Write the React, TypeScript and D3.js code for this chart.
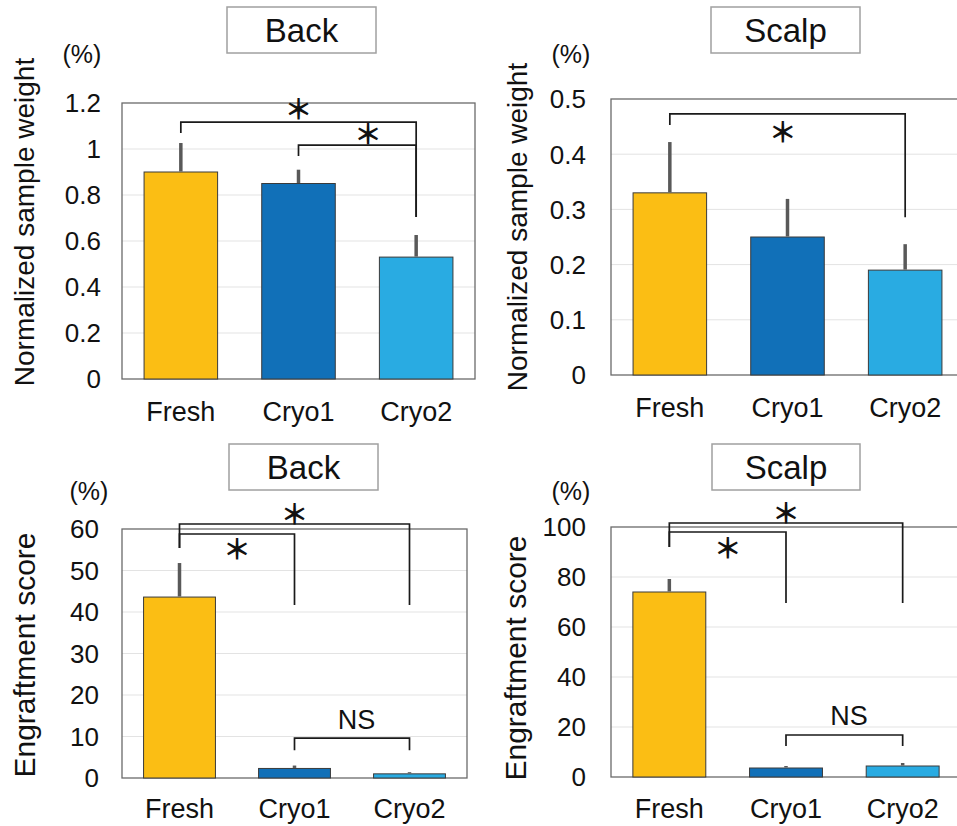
import React from 'react';
import * as d3 from 'd3';

// categories and colours
const categories = ['Fresh', 'Cryo1', 'Cryo2'];
const barColors = ['#FBBE14', '#1170B8', '#29ABE2'];

// normalized sample weight (%)
const backWeightMean = [0.9, 0.85, 0.53];
const backWeightErr = [0.126, 0.06, 0.096];
const scalpWeightMean = [0.33, 0.25, 0.19];
const scalpWeightErr = [0.092, 0.069, 0.047];

// engraftment score (%)
const backScoreMean = [43.6, 2.3, 1.0];
const backScoreErr = [8.2, 0.7, 0.4];
const scalpScoreMean = [74, 3.6, 4.4];
const scalpScoreErr = [5.2, 0.8, 1.2];

// tick values
const backWeightTicks = [0, 0.2, 0.4, 0.6, 0.8, 1, 1.2];
const scalpWeightTicks = [0, 0.1, 0.2, 0.3, 0.4, 0.5];
const backScoreTicks = [0, 10, 20, 30, 40, 50, 60];
const scalpScoreTicks = [0, 20, 40, 60, 80, 100];

// significance brackets: from/to category, line level, leg ends and label (data units)
const backWeightBrackets = [
    { from: 'Fresh', to: 'Cryo2', y: 1.117, leftEnd: 1.07, rightEnd: 0.704, label: '*', labelT: 0.5, labelY: 1.178 },
    { from: 'Cryo1', to: 'Cryo2', y: 1.017, leftEnd: 0.97, rightEnd: 0.704, label: '*', labelT: 0.59, labelY: 1.07 },
];
const scalpWeightBrackets = [
    { from: 'Fresh', to: 'Cryo2', y: 0.473, leftEnd: 0.453, rightEnd: 0.286, label: '*', labelT: 0.48, labelY: 0.442 },
];
const backScoreBrackets = [
    { from: 'Fresh', to: 'Cryo2', y: 61.2, leftEnd: 55.4, rightEnd: 41.7, label: '*', labelT: 0.5, labelY: 63.9 },
    { from: 'Fresh', to: 'Cryo1', y: 58.8, leftEnd: 55.4, rightEnd: 41.7, label: '*', labelT: 0.5, labelY: 55.4 },
    { from: 'Cryo1', to: 'Cryo2', y: 9.6, leftEnd: 6.7, rightEnd: 6.7, label: 'NS', labelT: 0.54, labelY: 11.8 },
];
const scalpScoreBrackets = [
    { from: 'Fresh', to: 'Cryo2', y: 101.6, leftEnd: 92, rightEnd: 69.6, label: '*', labelT: 0.5, labelY: 106 },
    { from: 'Fresh', to: 'Cryo1', y: 98, leftEnd: 92, rightEnd: 69.6, label: '*', labelT: 0.5, labelY: 92 },
    { from: 'Cryo1', to: 'Cryo2', y: 16.8, leftEnd: 12.4, rightEnd: 12.4, label: 'NS', labelT: 0.54, labelY: 20.8 },
];

const FONT = '"Liberation Sans", Arial, sans-serif';

function Panel({ box, yMax, ticks, means, errs, brackets, title, titleBox, yLabel, yLabelX, yLabelY, yLabelSize, pctX, pctY, tickX, xLabelY }) {
    const xScale = d3.scaleBand()
        .domain(categories)
        .range([box.left, box.right])
        .paddingInner(0.375)
        .paddingOuter(0.1875);
    const yScale = d3.scaleLinear()
        .domain([0, yMax])
        .range([box.bottom, box.top]);
    const cx = c => xScale(c) + xScale.bandwidth() / 2;

    return (
        <g>
            {/* title box */}
            <rect x={titleBox.x} y={titleBox.y} width={titleBox.w} height={titleBox.h}
                fill="#fff" stroke="#a0a0a0" strokeWidth="1.5" />
            <text x={titleBox.x + titleBox.w / 2} y={titleBox.y + titleBox.h / 2 + 12}
                textAnchor="middle" fontSize="33" fill="#111">{title}</text>

            {/* gridlines */}
            {ticks.filter(t => t > 0 && t < yMax).map(t => (
                <line key={t} x1={box.left} x2={box.right} y1={yScale(t)} y2={yScale(t)}
                    stroke="#e3e3e3" strokeWidth="1" />
            ))}

            {/* plot frame */}
            <rect x={box.left} y={box.top} width={box.right - box.left} height={box.bottom - box.top}
                fill="none" stroke="#6a6a6a" strokeWidth="1.3" />

            {/* bars */}
            {categories.map((c, i) => (
                <rect key={c} x={xScale(c)} y={yScale(means[i])} width={xScale.bandwidth()}
                    height={yScale(0) - yScale(means[i])}
                    fill={barColors[i]} stroke="#3a3a3a" strokeWidth="1" />
            ))}

            {/* error bars (upper only) */}
            {categories.map((c, i) => (
                <line key={c} x1={cx(c)} x2={cx(c)} y1={yScale(means[i]) - 0.5} y2={yScale(means[i] + errs[i])}
                    stroke="#595959" strokeWidth="3.5" />
            ))}

            {/* y ticks */}
            {ticks.map(t => (
                <text key={t} x={tickX} y={yScale(t)} dy="0.36em" textAnchor="end"
                    fontSize="26" fill="#111">{t}</text>
            ))}

            {/* x labels */}
            {categories.map(c => (
                <text key={c} x={cx(c)} y={xLabelY} textAnchor="middle" fontSize="27" fill="#111">{c}</text>
            ))}

            {/* unit */}
            <text x={pctX} y={pctY} textAnchor="middle" fontSize="25" fill="#111">(%)</text>

            {/* y axis title */}
            <text transform={`translate(${yLabelX}, ${yLabelY}) rotate(-90)`} textAnchor="middle"
                dy="0.35em" fontSize={yLabelSize} fill="#111">{yLabel}</text>

            {/* significance brackets */}
            {brackets.map((b, i) => {
                const x1 = cx(b.from);
                const x2 = cx(b.to);
                const y = yScale(b.y);
                const lx = x1 + (x2 - x1) * b.labelT;
                return (
                    <g key={i}>
                        <path d={`M${x1},${yScale(b.leftEnd)}V${y}H${x2}V${yScale(b.rightEnd)}`}
                            fill="none" stroke="#1a1a1a" strokeWidth="1.7" />
                        {b.label === '*' ? (
                            <text x={lx} y={yScale(b.labelY)} textAnchor="middle" dominantBaseline="central"
                                fontSize="28" fontWeight="bold" fontFamily='"Noto Sans CJK JP", sans-serif' fill="#111">＊</text>
                        ) : (
                            <text x={lx} y={yScale(b.labelY)} textAnchor="middle" fontSize="27" fill="#111">{b.label}</text>
                        )}
                    </g>
                );
            })}
        </g>
    );
}

export default function App() {
    return (
        <svg width={957} height={826} style={{ position: 'absolute', left: 0, top: 0, background: '#fff' }}
            fontFamily={FONT}>
            <rect width={957} height={826} fill="#fff" />
            <Panel box={{ left: 122, right: 475, top: 103, bottom: 379 }} yMax={1.2} ticks={backWeightTicks}
                means={backWeightMean} errs={backWeightErr} brackets={backWeightBrackets}
                title="Back" titleBox={{ x: 227, y: 7, w: 149, h: 46 }}
                yLabel="Normalized sample weight" yLabelX={24} yLabelY={222} yLabelSize={28}
                pctX={82} pctY={63} tickX={101} xLabelY={421} />
            <Panel box={{ left: 611, right: 964, top: 99, bottom: 375 }} yMax={0.5} ticks={scalpWeightTicks}
                means={scalpWeightMean} errs={scalpWeightErr} brackets={scalpWeightBrackets}
                title="Scalp" titleBox={{ x: 711, y: 7, w: 149, h: 46 }}
                yLabel="Normalized sample weight" yLabelX={517} yLabelY={227} yLabelSize={28}
                pctX={571} pctY={63} tickX={586} xLabelY={417} />
            <Panel box={{ left: 122, right: 467, top: 529, bottom: 778 }} yMax={60} ticks={backScoreTicks}
                means={backScoreMean} errs={backScoreErr} brackets={backScoreBrackets}
                title="Back" titleBox={{ x: 229, y: 444, w: 149, h: 46 }}
                yLabel="Engraftment score" yLabelX={24} yLabelY={655} yLabelSize={30}
                pctX={89} pctY={500} tickX={99} xLabelY={818} />
            <Panel box={{ left: 611, right: 961, top: 527, bottom: 777 }} yMax={100} ticks={scalpScoreTicks}
                means={scalpScoreMean} errs={scalpScoreErr} brackets={scalpScoreBrackets}
                title="Scalp" titleBox={{ x: 712, y: 444, w: 148, h: 46 }}
                yLabel="Engraftment score" yLabelX={515} yLabelY={658} yLabelSize={30}
                pctX={571} pctY={500} tickX={586} xLabelY={818} />
        </svg>
    );
}
